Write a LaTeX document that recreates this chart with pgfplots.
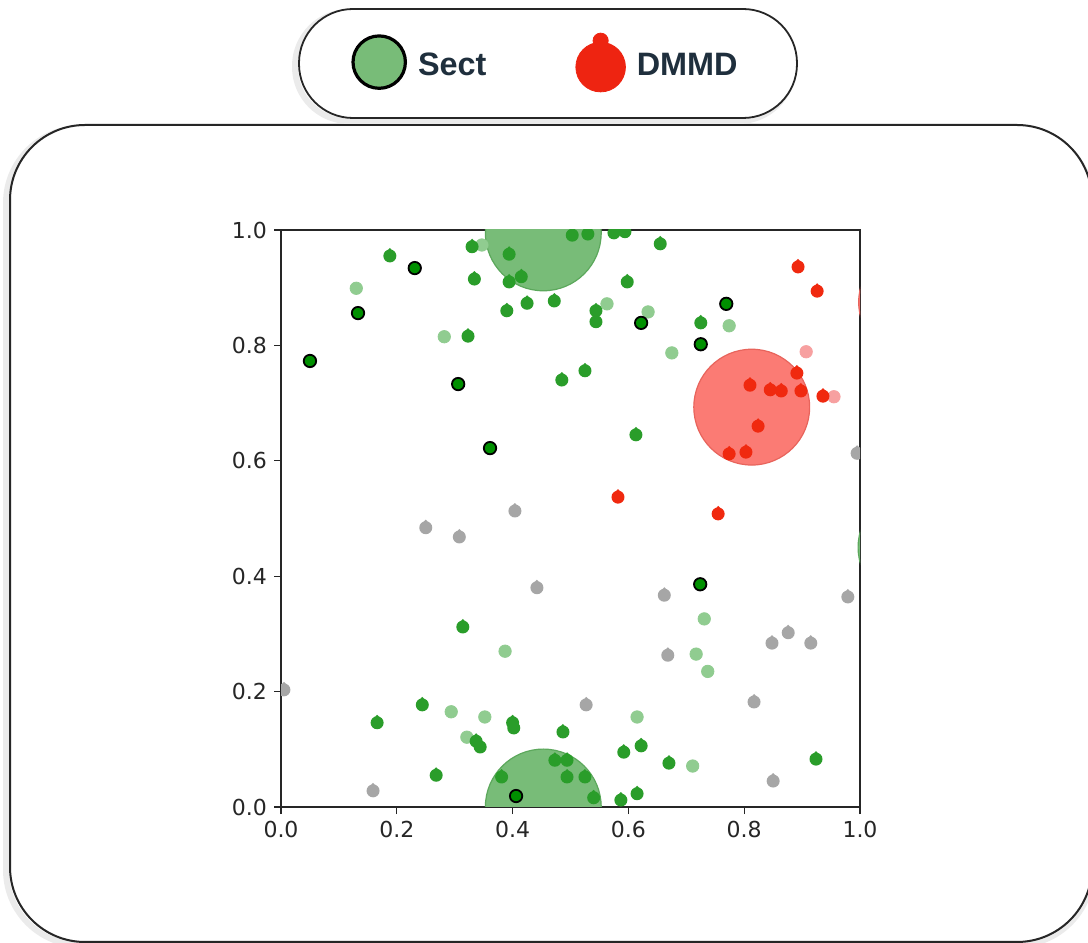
\documentclass[border=0pt]{standalone}
\usepackage{pgfplots}
\pgfplotsset{compat=1.18}
\usepackage{fontspec}
\setmainfont{DejaVu Sans}
\newfontfamily\legendfont{Liberation Sans}

\definecolor{ptgreen}{HTML}{2A9D2A}
\definecolor{ptdark}{HTML}{009000}
\definecolor{ptlight}{HTML}{90CC90}
\definecolor{ptgray}{HTML}{A6A6A6}
\definecolor{ptred}{HTML}{F0290F}
\definecolor{ptlightred}{HTML}{F7A0A0}
\definecolor{bggreen}{HTML}{78BC78}
\definecolor{bggreenedge}{HTML}{5CA85C}
\definecolor{bgred}{HTML}{FB7B74}
\definecolor{bgrededge}{HTML}{E8645C}
\definecolor{legred}{HTML}{EE2411}
\definecolor{legtext}{HTML}{1F2F3D}
\definecolor{ticktext}{HTML}{262626}

% round marker with a small knob on top
\pgfdeclareplotmark{knob}{%
  \pgfpathcircle{\pgfpointorigin}{\pgfplotmarksize}%
  \pgfpathcircle{\pgfpoint{0pt}{0.95\pgfplotmarksize}}{0.28\pgfplotmarksize}%
  \pgfusepathqfill}

\begin{document}
\begin{tikzpicture}
\useasboundingbox (0,0) rectangle (544pt,471.5pt);
\clip (0,0) rectangle (544pt,471.5pt);
% panel with soft edge
\draw[line width=3pt, black!8, rounded corners=37.5pt] (3pt,-1pt) rectangle (546pt,407.5pt);
\filldraw[fill=white, draw=black!85, line width=1pt, rounded corners=37.5pt] (5pt,0.5pt) rectangle (546pt,409pt);
% legend frame
\draw[line width=3pt, black!8, rounded corners=27pt] (147.5pt,411pt) rectangle (396.5pt,465.5pt);
\filldraw[fill=white, draw=black!85, line width=0.9pt, rounded corners=27pt] (149.5pt,412.5pt) rectangle (398.5pt,467pt);

\begin{axis}[
  at={(140.5pt,68pt)}, anchor=south west,
  scale only axis, width=289.5pt, height=288.5pt,
  xmin=0, xmax=1, ymin=0, ymax=1,
  xtick={0,0.2,0.4,0.6,0.8,1.0},
  ytick={0,0.2,0.4,0.6,0.8,1.0},
  tick pos=left, tick align=outside,
  major tick length=3.5pt,
  every tick/.style={black!85, line width=0.6pt},
  axis line style={black!85, line width=0.75pt},
  ticklabel style={font=\fontsize{11}{13}\selectfont, text=ticktext},
  /pgf/number format/assume math mode=true,
  xticklabel style={/pgf/number format/.cd, fixed, fixed zerofill, precision=1},
  yticklabel style={/pgf/number format/.cd, fixed, fixed zerofill, precision=1},
  clip marker paths=true,
  legend columns=2,
  legend style={at={(0.4603,1.2903)}, anchor=center, draw=none, fill=none,
    font=\legendfont\bfseries\fontsize{16.2}{19}\selectfont, text=legtext,
    /tikz/every odd column/.append style={column sep=2.5pt},
    /tikz/every even column/.append style={column sep=41.5pt},
    nodes={inner sep=3pt}},
]
% legend symbols
\addlegendimage{legend image code/.code={\filldraw[fill=bggreen, draw=black, line width=1.6pt] (10pt,0.164em) circle (13.1pt);}}
\addlegendentry{Sect}
\addlegendimage{legend image code/.code={\fill[legred] (10pt,-0.085em) circle (12.4pt); \fill[legred] (10pt,-0.085em+13.2pt) circle (3.8pt);}}
\addlegendentry{DMMD}

% coverage discs
\addplot[only marks, mark=*, mark size=28.95pt, mark options={fill=bggreen, draw=bggreenedge, line width=0.6pt}, forget plot]
  coordinates {(0.453,0.995) (0.453,0.0)};
\addplot[only marks, mark=*, mark size=28.95pt, mark options={fill=bggreen, draw=bggreenedge, line width=0.6pt, xshift=28pt}, forget plot]
  coordinates {(1.0,0.450)};
\addplot[only marks, mark=*, mark size=28.95pt, mark options={fill=bgred, draw=bgrededge, line width=0.6pt}, forget plot]
  coordinates {(0.813,0.693)};
\addplot[only marks, mark=*, mark size=28.95pt, mark options={fill=bgred, draw=bgrededge, line width=0.6pt, xshift=28.3pt}, forget plot]
  coordinates {(1.0,0.875)};

% unassigned points
\addplot[only marks, mark=knob, mark size=3.25pt, color=ptgray, forget plot] coordinates {
(0.005,0.203) (0.159,0.028) (0.250,0.484) (0.308,0.468) (0.404,0.513) (0.442,0.380)
(0.527,0.177) (0.662,0.367) (0.668,0.263) (0.817,0.182) (0.848,0.284) (0.876,0.302)
(0.915,0.284) (0.850,0.045) (0.979,0.364) (0.995,0.613)};

% faint points
\addplot[only marks, mark=*, mark size=3.1pt, color=ptlight, forget plot] coordinates {
(0.130,0.899) (0.282,0.815) (0.347,0.974) (0.563,0.872) (0.634,0.858) (0.774,0.834)
(0.675,0.787) (0.387,0.270) (0.294,0.165) (0.352,0.156) (0.321,0.121) (0.731,0.326)
(0.717,0.265) (0.737,0.235) (0.615,0.156) (0.711,0.071)};
\addplot[only marks, mark=*, mark size=3.1pt, color=ptlightred, forget plot] coordinates {
(0.907,0.789) (0.955,0.711)};

% Sect points
\addplot[only marks, mark=knob, mark size=3.25pt, color=ptgreen, forget plot] coordinates {
(0.188,0.955) (0.330,0.971) (0.334,0.915) (0.394,0.958) (0.394,0.910) (0.415,0.919)
(0.425,0.873) (0.390,0.860) (0.472,0.877) (0.503,0.991) (0.530,0.993) (0.575,0.995)
(0.594,0.997) (0.598,0.910) (0.655,0.976) (0.544,0.860) (0.544,0.841) (0.323,0.816)
(0.725,0.839) (0.485,0.740) (0.525,0.756) (0.613,0.645) (0.314,0.312) (0.166,0.146)
(0.244,0.177) (0.268,0.055) (0.337,0.114) (0.344,0.104) (0.400,0.146) (0.402,0.137)
(0.381,0.052) (0.473,0.081) (0.494,0.081) (0.487,0.130) (0.494,0.052) (0.525,0.052)
(0.540,0.016) (0.592,0.095) (0.622,0.106) (0.587,0.012) (0.615,0.023) (0.670,0.076)
(0.924,0.083)};

% Sect centres
\addplot[only marks, mark=*, mark size=3.1pt, mark options={fill=ptdark, draw=black, line width=0.9pt}, forget plot] coordinates {
(0.231,0.934) (0.133,0.856) (0.050,0.773) (0.306,0.733) (0.361,0.622) (0.622,0.839)
(0.769,0.872) (0.725,0.802) (0.724,0.386) (0.406,0.019)};

% DMMD points
\addplot[only marks, mark=knob, mark size=3.25pt, color=ptred, forget plot] coordinates {
(0.893,0.936) (0.926,0.894) (0.891,0.752) (0.810,0.731) (0.845,0.723) (0.864,0.721)
(0.898,0.721) (0.936,0.712) (0.824,0.660) (0.774,0.612) (0.803,0.615) (0.582,0.537)
(0.755,0.508)};
\end{axis}
\end{tikzpicture}
\end{document}
